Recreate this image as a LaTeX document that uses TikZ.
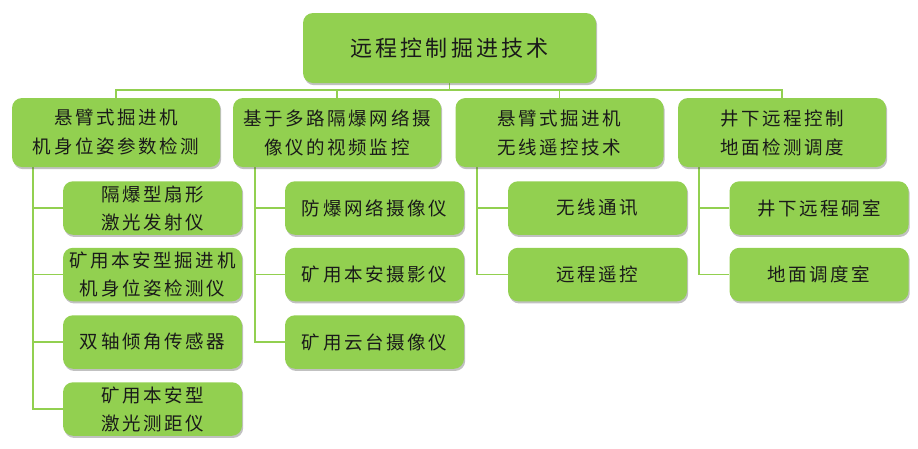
\documentclass[tikz,border=0pt]{standalone}
\usepackage{fontspec}
\newfontfamily\cjk{Noto Sans CJK SC}[LetterSpace=14]
\usetikzlibrary{shadows}
\definecolor{gfill}{HTML}{92D050}
\definecolor{gline}{HTML}{92D050}
\definecolor{txt}{HTML}{1A1A1A}
\pgfdeclarelayer{bg}
\pgfsetlayers{bg,main}
\tikzset{
  box/.style={rounded corners=10pt, fill=gfill, draw=none, inner sep=0pt, align=center,
    text=txt, font=\cjk\fontsize{18.5}{29}\selectfont,
    drop shadow={shadow xshift=1.2pt, shadow yshift=-2.2pt, opacity=0.35, fill=black!70}},
  rootbox/.style={box, minimum width=293pt, minimum height=70pt, font=\cjk\fontsize{22}{28}\selectfont},
  lone/.style={box, minimum width=208pt, minimum height=69pt},
  ltwo/.style={box, minimum width=179pt, minimum height=53.5pt, font=\cjk\fontsize{18.5}{28}\selectfont},
  conn/.style={draw=gline, line width=1.6pt},
}
\begin{document}
\begin{tikzpicture}[x=1pt,y=-1pt]
\useasboundingbox (0,0) rectangle (918,448);
% nodes
\node[rootbox] (root) at (449.5,48) {远程控制掘进技术};
\node[lone] (a1) at (116,132.5) {悬臂式掘进机\\机身位姿参数检测};
\node[lone] (a2) at (337,132.5) {基于多路隔爆网络摄\\像仪的视频监控};
\node[lone] (a3) at (559.5,132.5) {悬臂式掘进机\\无线遥控技术};
\node[lone] (a4) at (782,132.5) {井下远程控制\\地面检测调度};
\node[ltwo] (b11) at (152.5,208) {隔爆型扇形\\激光发射仪};
\node[ltwo] (b12) at (152.5,274.5) {矿用本安型掘进机\\机身位姿检测仪};
\node[ltwo] (b13) at (152.5,342) {双轴倾角传感器};
\node[ltwo] (b14) at (152.5,409) {矿用本安型\\激光测距仪};
\node[ltwo] (b21) at (374.5,208) {防爆网络摄像仪};
\node[ltwo] (b22) at (374.5,274.5) {矿用本安摄影仪};
\node[ltwo] (b23) at (374.5,342) {矿用云台摄像仪};
\node[ltwo] (b31) at (597.5,208) {无线通讯};
\node[ltwo] (b32) at (597.5,274.5) {远程遥控};
\node[ltwo] (b41) at (819,208) {井下远程硐室};
\node[ltwo] (b42) at (819,274.5) {地面调度室};
% connectors (behind boxes)
\coordinate (bus) at (0,90);
\coordinate (v1) at (33,0);
\coordinate (v2) at (255,0);
\coordinate (v3) at (477,0);
\coordinate (v4) at (699,0);
\begin{pgfonlayer}{bg}
\foreach \a in {a1,a2,a3,a4}{
  \draw[conn] (root.south) -- (root.south |- bus) -| (\a.north);
}
\draw[conn] (v1 |- a1.south) |- (b11.west);
\draw[conn] (v1 |- a1.south) |- (b12.west);
\draw[conn] (v1 |- a1.south) |- (b13.west);
\draw[conn] (v1 |- a1.south) |- (b14.west);
\draw[conn] (v2 |- a2.south) |- (b21.west);
\draw[conn] (v2 |- a2.south) |- (b22.west);
\draw[conn] (v2 |- a2.south) |- (b23.west);
\draw[conn] (v3 |- a3.south) |- (b31.west);
\draw[conn] (v3 |- a3.south) |- (b32.west);
\draw[conn] (v4 |- a4.south) |- (b41.west);
\draw[conn] (v4 |- a4.south) |- (b42.west);
\end{pgfonlayer}
\end{tikzpicture}
\end{document}
